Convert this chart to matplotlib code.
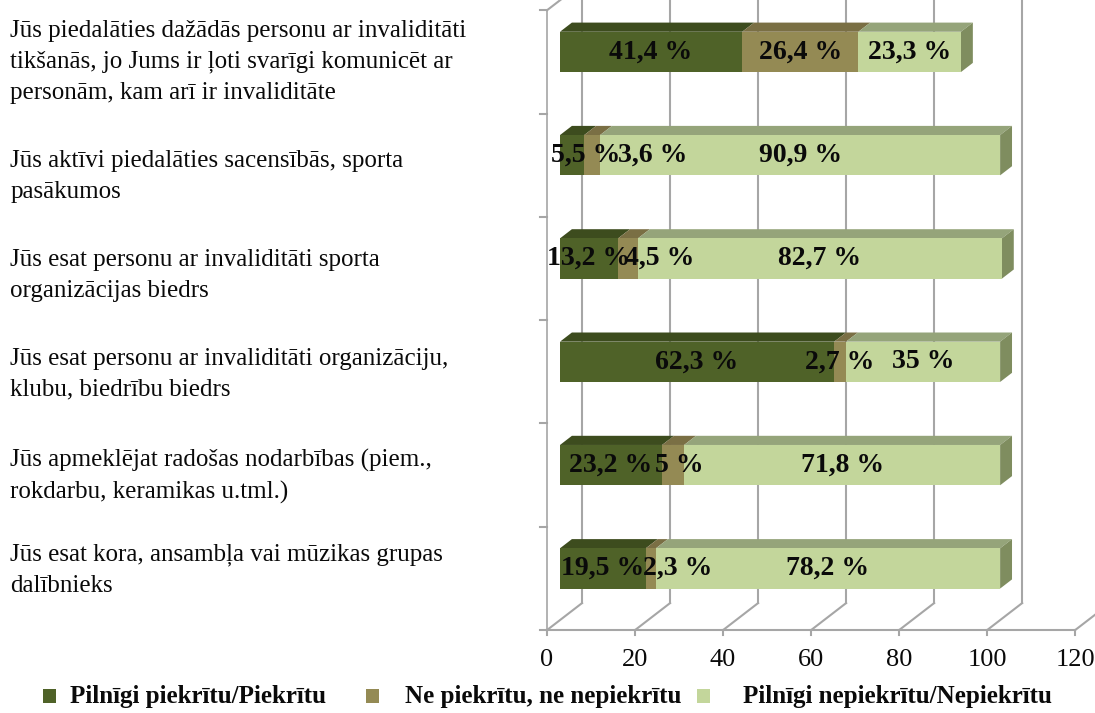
import matplotlib
matplotlib.use("Agg")
import matplotlib.pyplot as plt
from matplotlib.patches import Polygon, Rectangle

plt.rcParams['font.family'] = ['Liberation Serif', 'DejaVu Serif']

# data (top to bottom, as in the picture)
categories = [
    "Jūs piedalāties dažādās personu ar invaliditāti\ntikšanās, jo Jums ir ļoti svarīgi komunicēt ar\npersonām, kam arī ir invaliditāte",
    "Jūs aktīvi piedalāties sacensībās, sporta\npasākumos",
    "Jūs esat personu ar invaliditāti sporta\norganizācijas biedrs",
    "Jūs esat personu ar invaliditāti organizāciju,\nklubu, biedrību biedrs",
    "Jūs apmeklējat radošas nodarbības (piem.,\nrokdarbu, keramikas u.tml.)",
    "Jūs esat kora, ansambļa vai mūzikas grupas\ndalībnieks",
]
agree = [41.4, 5.5, 13.2, 62.3, 23.2, 19.5]
neutral = [26.4, 3.6, 4.5, 2.7, 5.0, 2.3]
disagree = [23.3, 90.9, 82.7, 35.0, 71.8, 78.2]
series_names = ["Pilnīgi piekrītu/Piekrītu", "Ne piekrītu, ne nepiekrītu",
                "Pilnīgi nepiekrītu/Nepiekrītu"]
xticks = [0, 20, 40, 60, 80, 100, 120]

# styling
front_cols = ["#4f6228", "#948a54", "#c3d69b"]
top_cols = ["#3d4c1e", "#7a6f44", "#95a47a"]
side_col = "#7f8d5f"
grid_col = "#a6a6a6"
txt_col = "#0a0a0a"

# label nudges for the crowded small segments (value units)
nudge = {(1, 0): 3.0, (1, 1): 13.7, (2, 1): 7.3, (4, 1): 1.4, (5, 1): 6.2}
# category label vertical nudges (category units, negative = down)
label_dy = [0.0, -0.11, -0.07, -0.02, -0.01, 0.08]

DX, DY = 7.95, 0.261          # depth of the floor in data units
Z0, Z1 = 0.37, 0.71           # bar front/back depth fractions
BAR_H = 0.39

fig = plt.figure(figsize=(10.95, 7.13), dpi=100)
ax = fig.add_axes([0, 0, 1, 1])
ax.set_xlim(-124.3, 124.5)
ax.set_ylim(-0.803, 6.099)
ax.axis('off')

n = len(categories)
lw = 1.5

# back wall gridlines + floor depth lines + ticks
for v in xticks:
    ax.plot([v + DX, v + DX], [DY, n + 1], color=grid_col, lw=lw, zorder=1)
    ax.plot([v, v + DX], [0, DY], color=grid_col, lw=lw, zorder=1)
    ax.plot([v, v], [0, -0.05], color=grid_col, lw=lw, zorder=1)
    ax.text(v, -0.29, str(v), ha='center', va='center', fontsize=19, color=txt_col)
ax.plot([0, xticks[-1]], [0, 0], color=grid_col, lw=lw, zorder=1)

# left wall
ax.plot([0, 0], [0, n], color=grid_col, lw=1.2, zorder=1)
ax.plot([0, DX], [n, n + DY], color=grid_col, lw=lw, zorder=1)
for k in range(n + 1):
    ax.plot([-1.6, 0], [k, k], color=grid_col, lw=lw, zorder=1)

# bars
ox, oy = Z0 * DX, Z0 * DY
bdx, bdy = (Z1 - Z0) * DX, (Z1 - Z0) * DY
for r in range(n):
    vals = [agree[r], neutral[r], disagree[r]]
    yc = (n - 1 - r) + 0.5 + oy
    yb, yt = yc - BAR_H / 2, yc + BAR_H / 2
    x0 = 0.0
    for s, v in enumerate(vals):
        x1 = x0 + v
        ax.add_patch(Polygon([(x0 + ox, yt), (x1 + ox, yt), (x1 + ox + bdx, yt + bdy),
                              (x0 + ox + bdx, yt + bdy)], closed=True,
                             facecolor=top_cols[s], edgecolor='none', zorder=3))
        ax.add_patch(Rectangle((x0 + ox, yb), v, BAR_H, facecolor=front_cols[s],
                               edgecolor='none', zorder=4))
        lab = f"{v:g}".replace('.', ',') + " %"
        ax.text((x0 + x1) / 2 + ox + nudge.get((r, s), 0), yc, lab, ha='center',
                va='center', fontsize=20, fontweight='bold', color=txt_col, zorder=6)
        x0 = x1
    ax.add_patch(Polygon([(x0 + ox, yb), (x0 + ox, yt), (x0 + ox + bdx, yt + bdy),
                          (x0 + ox + bdx, yb + bdy)], closed=True,
                         facecolor=side_col, edgecolor='none', zorder=3))

# category labels
for r, lab in enumerate(categories):
    ax.text(-122, (n - 1 - r) + 0.5 + label_dy[r], lab, ha='left', va='center',
            fontsize=18, color=txt_col, linespacing=1.5)

# legend
leg_marker_x = [43, 366, 697]
leg_text_x = [70, 405, 743]
for s in range(3):
    fig.patches.append(Rectangle((leg_marker_x[s] / 1095, 1 - 703 / 713), 13 / 1095,
                                 14 / 713, transform=fig.transFigure,
                                 facecolor=front_cols[s], edgecolor='none'))
    fig.text(leg_text_x[s] / 1095, 1 - 697 / 713, series_names[s], ha='left',
             va='center', fontsize=18, fontweight='bold', color=txt_col)

fig.savefig("out.png", dpi=100)
